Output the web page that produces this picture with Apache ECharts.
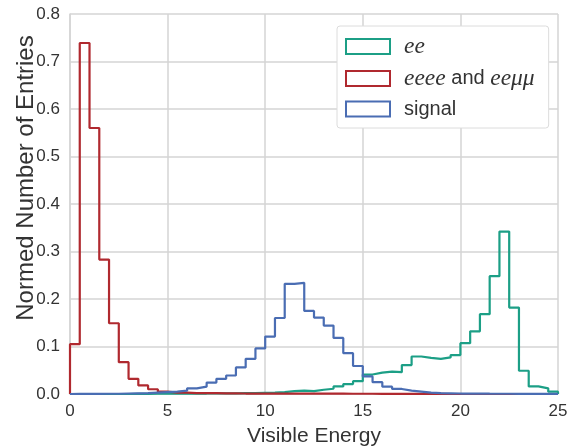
<!DOCTYPE html>
<html>
<head>
<meta charset="utf-8">
<script src="https://cdn.jsdelivr.net/npm/echarts@6/dist/echarts.min.js"></script>
<style>
html,body{margin:0;padding:0;background:#fff;}
#c{width:568px;height:448px;}
</style>
</head>
<body>
<div id="c"></div>
<script>
// Bin edges (width 0.5) along Visible Energy
const binEdges = [0,0.5,1,1.5,2,2.5,3,3.5,4,4.5,5,5.5,6,6.5,7,7.5,8,8.5,9,9.5,10,10.5,11,11.5,12,12.5,13,13.5,14,14.5,15,15.5,16,16.5,17,17.5,18,18.5,19,19.5,20,20.5,21,21.5,22,22.5,23,23.5,24,24.5,25];

const eeValues = [0,0,0,0,0,0,0.0003,0.0003,0.0005,0.0005,
  0.0008,0.001,0.001,0.001,0.0012,0.0015,0.0015,0.002,0.002,0.0025,
  0.003,0.004,0.006,0.007,0.006,0.009,0.011,0.016,0.021,0.027,
  0.041,0.045,0.047,0.046,0.061,0.079,0.076,0.074,0.077,0.082,
  0.107,0.132,0.168,0.248,0.342,0.182,0.049,0.016,0.012,0.005];

const eeeeValues = [0.105,0.739,0.560,0.283,0.149,0.067,0.032,0.018,0.010,0.005,
  0.003,0.003,0.002,0.002,0.002,0.0015,0.0015,0.001,0.001,0.001,
  0.001,0.001,0.001,0.0008,0.0008,0.0008,0.0006,0.0006,0.0005,0.0005,
  0.0005,0.0004,0.0004,0.0003,0.0003,0.0002,0.0002,0.0002,0,0,
  0,0,0,0,0,0,0,0,0,0];

const signalValues = [0.0003,0.0003,0.0003,0.0005,0.0005,0.001,0.0015,0.002,0.003,0.004,
  0.005,0.007,0.012,0.0155,0.024,0.032,0.039,0.056,0.074,0.096,
  0.121,0.160,0.232,0.234,0.175,0.161,0.144,0.118,0.086,0.059,
  0.037,0.025,0.0155,0.0106,0.007,0.005,0.003,0.002,0.0015,0.001,
  0.001,0.0008,0.0006,0.0005,0.0005,0.0004,0.0003,0.0003,0.0002,0.0002];

const seriesNames = ['ee', 'eeee and eeμμ', 'signal'];
const seriesColors = ['#1c9f86', '#b0292f', '#4a6db3'];
const yTicks = [0, 0.1, 0.2, 0.3, 0.4, 0.5, 0.6, 0.7, 0.8];
const xTicks = [0, 5, 10, 15, 20, 25];
const yTitle = 'Normed Number of Entries';

function stepData(vals) {
  const pts = [[binEdges[0], 0]];
  for (let i = 0; i < vals.length; i++) pts.push([binEdges[i], vals[i]]);
  pts.push([binEdges[binEdges.length - 1], vals[vals.length - 1]]);
  pts.push([binEdges[binEdges.length - 1], 0]);
  return pts;
}

const allValues = [eeValues, eeeeValues, signalValues];
const gridColor = '#d5d5d5';
const textColor = '#333333';

const chart = echarts.init(document.getElementById('c'), null, {renderer: 'canvas'});
chart.setOption({
  animation: false,
  backgroundColor: '#ffffff',
  grid: {left: 70, right: 10, top: 14, bottom: 54, containLabel: false, outerBoundsMode: 'none'},
  graphic: [{
    type: 'text',
    x: 26, y: 178,
    rotation: Math.PI / 2,
    silent: true,
    style: {
      text: yTitle,
      fontFamily: 'Liberation Sans', fontSize: 24,
      fill: textColor, align: 'center', verticalAlign: 'middle'
    }
  }],
  xAxis: {
    type: 'value', min: xTicks[0], max: xTicks[xTicks.length - 1], interval: 5,
    name: 'Visible Energy', nameLocation: 'middle', nameGap: 32,
    nameTextStyle: {fontFamily: 'Liberation Sans', fontSize: 21, color: textColor},
    axisLine: {show: true, lineStyle: {color: gridColor, width: 1.5}},
    axisTick: {show: false},
    axisLabel: {fontFamily: 'Liberation Sans', fontSize: 17, color: textColor, margin: 9},
    splitLine: {show: true, lineStyle: {color: gridColor, width: 1.5}}
  },
  yAxis: {
    type: 'value', min: yTicks[0], max: yTicks[yTicks.length - 1], interval: 0.1,
    axisLine: {show: true, lineStyle: {color: gridColor, width: 1.5}},
    axisTick: {show: false},
    axisLabel: {fontFamily: 'Liberation Sans', fontSize: 17, color: textColor, margin: 10,
      formatter: v => v.toFixed(1)},
    splitLine: {show: true, lineStyle: {color: gridColor, width: 1.5}}
  },
  legend: {
    orient: 'vertical', left: 337, top: 26,
    padding: [9, 14, 9, 8],
    itemGap: 9, itemWidth: 44, itemHeight: 15,
    backgroundColor: '#ffffff', borderColor: '#dcdcdc', borderWidth: 1, borderRadius: 3,
    icon: 'rect',
    data: seriesNames.map((n, i) => ({
      name: n,
      itemStyle: {color: '#ffffff', borderColor: seriesColors[i], borderWidth: 2}
    })),
    formatter: function (name) {
      if (name === 'ee') return '{m|ee}';
      if (name === 'eeee and eeμμ') return '{m|eeee}{t| and }{m|eeμμ}';
      return '{t|' + name + '}';
    },
    textStyle: {
      color: textColor, fontSize: 20, fontFamily: 'Liberation Sans', padding: [0, 0, 0, 9],
      rich: {
        m: {fontFamily: 'Liberation Serif', fontStyle: 'italic', fontSize: 23.5, color: textColor},
        t: {fontFamily: 'Liberation Sans', fontSize: 20, color: textColor}
      }
    }
  },
  series: allValues.map((vals, i) => ({
    name: seriesNames[i],
    type: 'line',
    step: 'end',
    showSymbol: false,
    symbol: 'none',
    data: stepData(vals),
    lineStyle: {color: seriesColors[i], width: 2.2},
    itemStyle: {color: seriesColors[i]},
    z: 2 + i
  }))
});
</script>
</body>
</html>
